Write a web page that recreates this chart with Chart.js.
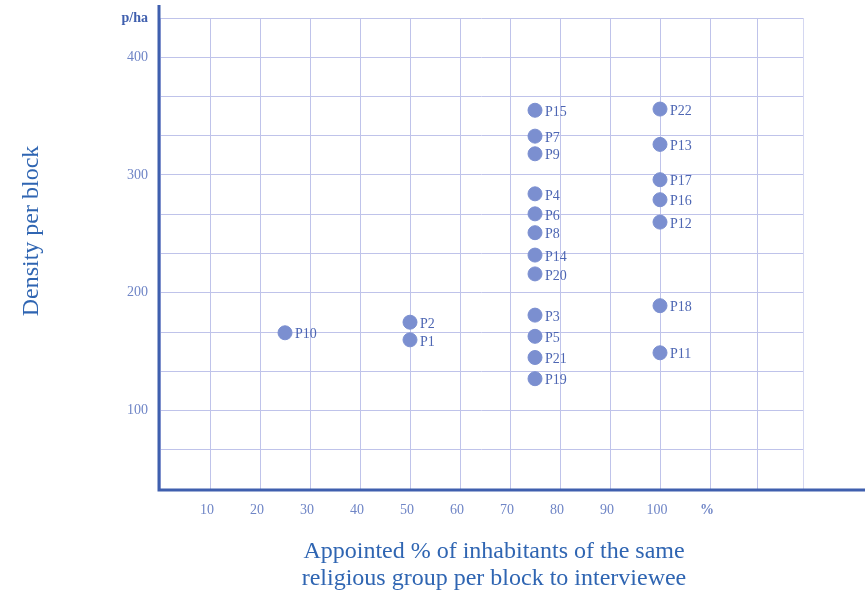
<!DOCTYPE html>
<html>
<head>
<meta charset="utf-8">
<script src="https://cdn.jsdelivr.net/npm/chart.js@4.4.0/dist/chart.umd.min.js"></script>
<style>
  html, body { margin: 0; padding: 0; background: #fff; }
  #wrap { width: 865px; height: 594px; }
</style>
</head>
<body>
<div id="wrap"><canvas id="densityChart" width="865" height="594"></canvas></div>
<script>
// survey blocks: appointed share (%) vs density (p/ha)
const pointNames = ['P1', 'P2', 'P3', 'P4', 'P5', 'P6', 'P7', 'P8', 'P9', 'P10', 'P11',
                    'P12', 'P13', 'P14', 'P15', 'P16', 'P17', 'P18', 'P19', 'P20', 'P21', 'P22'];
const pctValues = [50, 50, 75, 75, 75, 75, 75, 75, 75, 25, 100,
                   100, 100, 75, 75, 100, 100, 100, 75, 75, 75, 100];
const densityValues = [160, 175, 181, 284, 163, 267, 333, 251, 318, 166, 149,
                       260, 326, 232, 355, 279, 296, 189, 127, 216, 145, 356];

const xTicks = [0, 10, 20, 30, 40, 50, 60, 70, 80, 90, 100, 110, 119.4, 128.6];
const xTickLabels = ['', '10', '20', '30', '40', '50', '60', '70', '80', '90', '100', '%', '', ''];
const yTicks = [100/3, 200/3, 100, 400/3, 500/3, 200, 700/3, 800/3, 300, 1000/3, 1100/3, 400, 1300/3];
const yTickLabels = ['', '', '100', '', '', '200', '', '', '300', '', '', '400', 'p/ha'];

const xTitle = ['Appointed % of inhabitants of the same', 'religious group per block to interviewee'];
const yTitle = 'Density per block';

const serif = '"Liberation Serif", "DejaVu Serif", serif';
const gridColor = '#bfc3ea';
const axisColor = '#3f5fae';
const titleColor = '#2f65b2';

const decorations = {
  id: 'decorations',
  afterDatasetsDraw(chart) {
    const ctx = chart.ctx;
    const area = chart.chartArea;
    const meta = chart.getDatasetMeta(0);
    ctx.save();

    // point names
    ctx.font = '14px ' + serif;
    ctx.fillStyle = '#4d66b3';
    ctx.textAlign = 'left';
    ctx.textBaseline = 'middle';
    meta.data.forEach((pt, i) => ctx.fillText(pointNames[i], pt.x + 10, pt.y + 2));

    // heavy axes, bottom one runs to the edge
    ctx.strokeStyle = axisColor;
    ctx.lineWidth = 3;
    ctx.beginPath();
    ctx.moveTo(area.left - 1, 5);
    ctx.lineTo(area.left - 1, area.bottom + 1);
    ctx.lineTo(chart.width, area.bottom + 1);
    ctx.stroke();

    // axis titles
    ctx.fillStyle = titleColor;
    ctx.font = '24px ' + serif;
    ctx.textAlign = 'center';
    ctx.textBaseline = 'alphabetic';
    ctx.fillText(xTitle[0], 494, 558);
    ctx.fillText(xTitle[1], 494, 585);

    ctx.translate(38, 231);
    ctx.rotate(-Math.PI / 2);
    ctx.fillText(yTitle, 0, 0);
    ctx.restore();
  }
};

new Chart(document.getElementById('densityChart'), {
  type: 'scatter',
  data: {
    datasets: [{
      data: pctValues.map((x, i) => ({x: x, y: densityValues[i]})),
      backgroundColor: '#7b8fd0',
      borderColor: '#7b8fd0',
      pointRadius: 7,
      pointHoverRadius: 7
    }]
  },
  options: {
    responsive: false,
    animation: false,
    layout: { padding: { top: 18, right: 62, left: 0, bottom: 0 } },
    plugins: { legend: { display: false }, tooltip: { enabled: false } },
    scales: {
      x: {
        type: 'linear',
        min: 0,
        max: 128.6,
        afterBuildTicks: scale => { scale.ticks = xTicks.map(v => ({value: v})); },
        afterFit: scale => { scale.height = 105; scale.paddingLeft = 0; scale.paddingRight = 0; },
        border: { display: false },
        grid: {
          color: ctx => ctx.index === xTicks.length - 1 ? '#d4d7f1' : gridColor,
          lineWidth: 1,
          drawTicks: false
        },
        ticks: {
          padding: 13,
          labelOffset: -3,
          maxRotation: 0,
          autoSkip: false,
          color: '#6f85c6',
          font: ctx => ({ family: serif, size: 14, weight: ctx.index === 11 ? 'bold' : 'normal' }),
          callback: (v, i) => xTickLabels[i]
        }
      },
      y: {
        type: 'linear',
        min: 100/3,
        max: 1300/3,
        afterBuildTicks: scale => { scale.ticks = yTicks.map(v => ({value: v})); },
        afterFit: scale => { scale.width = 160; scale.paddingTop = 0; scale.paddingBottom = 0; },
        border: { display: false },
        grid: { color: gridColor, lineWidth: 1, drawTicks: false },
        ticks: {
          padding: 12,
          autoSkip: false,
          color: ctx => ctx.index === yTicks.length - 1 ? '#3f5fae' : '#6f85c6',
          font: ctx => ({ family: serif, size: 14, weight: ctx.index === yTicks.length - 1 ? 'bold' : 'normal' }),
          callback: (v, i) => yTickLabels[i]
        }
      }
    }
  },
  plugins: [decorations]
});
</script>
</body>
</html>
